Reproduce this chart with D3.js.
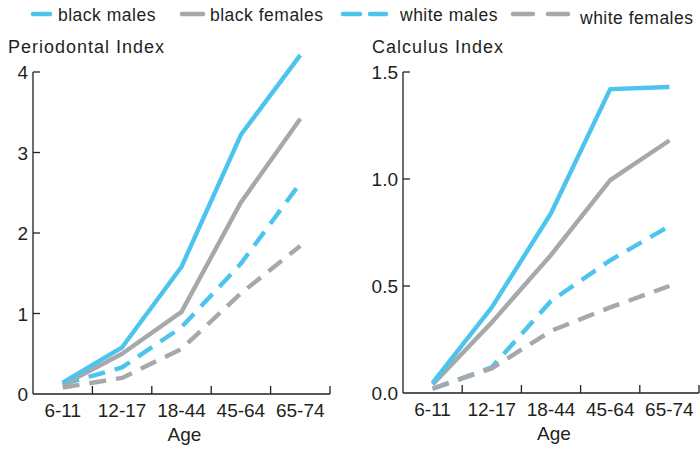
<!DOCTYPE html>
<html>
<head>
<meta charset="utf-8">
<script src="https://cdn.jsdelivr.net/npm/d3@7"></script>
<style>
  body { margin: 0; background: #fff; }
  svg text { font-family: "Liberation Sans", Arial, sans-serif; fill: #231f20; }
</style>
</head>
<body>
<svg id="chart" width="700" height="449"></svg>
<script>
// Age groups on the x axis
const ages = ["6-11", "12-17", "18-44", "45-64", "65-74"];

// Periodontal Index by group
const periodontalBlackMales   = [0.14, 0.58, 1.58, 3.22, 4.21];
const periodontalBlackFemales = [0.11, 0.50, 1.02, 2.38, 3.42];
const periodontalWhiteMales   = [0.12, 0.33, 0.83, 1.62, 2.62];
const periodontalWhiteFemales = [0.08, 0.20, 0.56, 1.25, 1.84];

// Calculus Index by group
const calculusBlackMales   = [0.047, 0.40, 0.84, 1.42, 1.43];
const calculusBlackFemales = [0.040, 0.33, 0.645, 0.995, 1.18];
const calculusWhiteMales   = [0.020, 0.12, 0.43, 0.62, 0.78];
const calculusWhiteFemales = [0.020, 0.115, 0.29, 0.40, 0.50];

const periodontalTicks = [0, 1, 2, 3, 4];
const calculusTicks = [0, 0.5, 1.0, 1.5];

const groupNames = ["black males", "black females", "white males", "white females"];

const BLUE = "#4cc4ee";
const GRAY = "#a7a8ab";
const styles = [
  { color: BLUE, dash: null },
  { color: GRAY, dash: null },
  { color: BLUE, dash: "17,10" },
  { color: GRAY, dash: "17,10" }
];

const svg = d3.select("#chart");

// Legend across the top
const legendItems = [
  { x1: 33, x2: 50, tx: 58 },
  { x1: 182, x2: 203, tx: 210 },
  { x1: 343, x2: 386, tx: 400, dash: "17,10" },
  { x1: 513, x2: 572, tx: 580, dash: "20,15" }
];
const legend = svg.append("g");
legendItems.forEach((it, i) => {
  legend.append("line")
    .attr("x1", it.x1).attr("x2", it.x2)
    .attr("y1", 14).attr("y2", 14)
    .attr("stroke", styles[i].color)
    .attr("stroke-width", 4.5)
    .attr("stroke-linecap", "round")
    .attr("stroke-dasharray", it.dash || null);
  legend.append("text")
    .attr("x", it.tx).attr("y", i === 3 ? 24 : 21)
    .attr("font-size", 17.5)
    .attr("letter-spacing", 0.5)
    .text(groupNames[i]);
});

function panel(cfg) {
  const g = svg.append("g");
  const x = d3.scaleBand().domain(ages).range([cfg.left, cfg.right]);
  const y = d3.scaleLinear().domain(cfg.domain).range([cfg.bottom, cfg.top]);

  // title
  g.append("text")
    .attr("x", cfg.titleX).attr("y", 53)
    .attr("font-size", 18)
    .attr("letter-spacing", 1)
    .text(cfg.title);

  // y axis line and inward ticks
  g.append("line")
    .attr("x1", cfg.left).attr("x2", cfg.left)
    .attr("y1", y(cfg.ticks[cfg.ticks.length - 1])).attr("y2", cfg.bottom)
    .attr("stroke", "#231f20").attr("stroke-width", 1.3);
  cfg.ticks.forEach(t => {
    if (t !== 0) {
      g.append("line")
        .attr("x1", cfg.left).attr("x2", cfg.left + 7)
        .attr("y1", y(t)).attr("y2", y(t))
        .attr("stroke", "#231f20").attr("stroke-width", 1.3);
    }
    g.append("text")
      .attr("x", cfg.left - 5).attr("y", y(t) + 7)
      .attr("text-anchor", "end")
      .attr("font-size", 19)
      .text(cfg.fmt(t));
  });

  // x axis line, ticks at band boundaries pointing up
  g.append("line")
    .attr("x1", cfg.left).attr("x2", cfg.right)
    .attr("y1", cfg.bottom).attr("y2", cfg.bottom)
    .attr("stroke", "#231f20").attr("stroke-width", 1.3);
  ages.forEach((a, i) => {
    const bx = x(a) + x.bandwidth();
    g.append("line")
      .attr("x1", bx).attr("x2", bx)
      .attr("y1", cfg.bottom).attr("y2", cfg.bottom - 8)
      .attr("stroke", "#231f20").attr("stroke-width", 1.3);
    g.append("text")
      .attr("x", x(a) + x.bandwidth() / 2).attr("y", cfg.bottom + 23)
      .attr("text-anchor", "middle")
      .attr("font-size", 19)
      .text(a);
  });
  g.append("text")
    .attr("x", (cfg.left + cfg.right) / 2 + 3).attr("y", cfg.bottom + 47)
    .attr("text-anchor", "middle")
    .attr("font-size", 19)
    .text("Age");

  // series lines: white males, white females, black females, black males (top)
  const line = d3.line()
    .x((d, i) => x(ages[i]) + x.bandwidth() / 2)
    .y(d => y(d));
  [2, 3, 1, 0].forEach(k => {
    g.append("path")
      .datum(cfg.series[k])
      .attr("d", line)
      .attr("fill", "none")
      .attr("stroke", styles[k].color)
      .attr("stroke-width", 4.4)
      .attr("stroke-linejoin", "round")
      .attr("stroke-dasharray", styles[k].dash);
  });
}

panel({
  title: "Periodontal Index", titleX: 8,
  left: 33, right: 330, top: 72, bottom: 394,
  domain: [0, 4], ticks: periodontalTicks,
  fmt: d => String(d),
  series: [periodontalBlackMales, periodontalBlackFemales, periodontalWhiteMales, periodontalWhiteFemales]
});

panel({
  title: "Calculus Index", titleX: 372,
  left: 403, right: 699, top: 72, bottom: 393,
  domain: [0, 1.5], ticks: calculusTicks,
  fmt: d3.format(".1f"),
  series: [calculusBlackMales, calculusBlackFemales, calculusWhiteMales, calculusWhiteFemales]
});
</script>
</body>
</html>
